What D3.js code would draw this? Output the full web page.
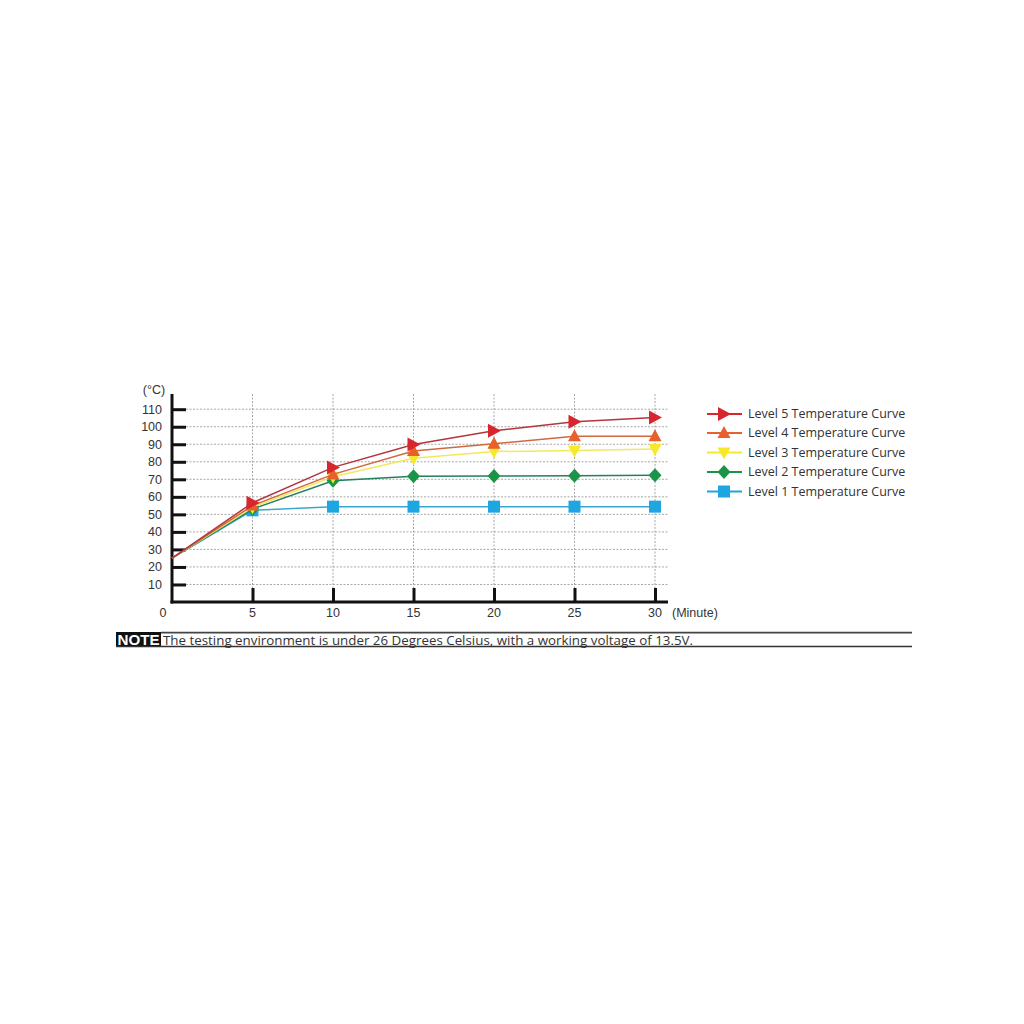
<!DOCTYPE html>
<html><head><meta charset="utf-8">
<script src="https://cdn.jsdelivr.net/npm/d3@7"></script>
<style>body{margin:0;background:#fff;}svg{display:block;}</style>
</head><body>
<script>
const minutes = [0, 5, 10, 15, 20, 25, 30];
const level5 = [25, 56.6, 76.8, 89.8, 97.7, 102.9, 105.2];
const level4 = [25, 55, 72.8, 86.1, 90.3, 94.5, 94.5];
const level3 = [25, 54, 71.5, 82, 85.8, 86.5, 87.3];
const level2 = [25, 53, 69.2, 71.8, 71.9, 72, 72.3];
const level1 = [25, 52.3, 54.4, 54.4, 54.4, 54.4, 54.4];
const seriesNames = ["Level 5 Temperature Curve","Level 4 Temperature Curve","Level 3 Temperature Curve","Level 2 Temperature Curve","Level 1 Temperature Curve"];
const seriesColors = ["#d8262e","#e8602c","#f7e92a","#1a9447","#1ea6e0"];
const lineColors = ["#b3353e","#d0683f","#f4e860","#22805a","#3aa6cf"];
const seriesShapes = ["right","up","down","diamond","square"];
const yTicks = [10,20,30,40,50,60,70,80,90,100,110];
const xTicks = [5,10,15,20,25,30];
const noteText = "The testing environment is under 26 Degrees Celsius, with a working voltage of 13.5V.";
const allSeries = [level5, level4, level3, level2, level1];

const W = 1024, H = 1024;
const svg = d3.select("body").append("svg").attr("width", W).attr("height", H);
const x = d3.scaleLinear().domain([0,30]).range([172,655]);
const y = d3.scaleLinear().domain([0,110]).range([602,409.2]);
const font = "Arial, 'Liberation Sans', sans-serif";

// grid
const grid = svg.append("g");
grid.selectAll(".hg").data(yTicks).join("line")
  .attr("x1", x(0)).attr("x2", 668).attr("y1", d=>y(d)).attr("y2", d=>y(d))
  .attr("stroke","#a8a8a8").attr("stroke-width",1).attr("stroke-dasharray","2,1.5");
grid.selectAll(".vg").data(xTicks).join("line")
  .attr("x1", d=>x(d)).attr("x2", d=>x(d)).attr("y1", 394).attr("y2", y(0))
  .attr("stroke","#a8a8a8").attr("stroke-width",1).attr("stroke-dasharray","2,1.5");

// axes
const yAxis = d3.axisRight(y).tickValues(yTicks).tickSize(14).tickFormat("");
const ya = svg.append("g").attr("transform",`translate(${x(0)},0)`).call(yAxis);
ya.select(".domain").remove();
ya.selectAll(".tick line").attr("stroke","#111").attr("stroke-width",3);
const xAxis = d3.axisTop(x).tickValues(xTicks).tickSize(14).tickFormat("");
const xa = svg.append("g").attr("transform",`translate(0,${y(0)})`).call(xAxis);
xa.select(".domain").remove();
xa.selectAll(".tick line").attr("stroke","#111").attr("stroke-width",3);
svg.append("line").attr("x1",x(0)).attr("x2",x(0)).attr("y1",394).attr("y2",y(0)+1.5).attr("stroke","#111").attr("stroke-width",3);
svg.append("line").attr("x1",x(0)-1.5).attr("x2",668).attr("y1",y(0)).attr("y2",y(0)).attr("stroke","#111").attr("stroke-width",3);

// labels
svg.append("g").selectAll("text").data(yTicks).join("text")
  .attr("x",162).attr("y",d=>y(d)).attr("dy","0.35em").attr("text-anchor","end")
  .attr("font-family",font).attr("font-size",12.5).attr("fill","#333").text(d=>d);
svg.append("g").selectAll("text").data([0].concat(xTicks)).join("text")
  .attr("x",d=> d===0 ? 163 : x(d)).attr("y",613).attr("dy","0.35em").attr("text-anchor","middle")
  .attr("font-family",font).attr("font-size",12.5).attr("fill","#333").text(d=>d);
svg.append("text").attr("x",154).attr("y",390).attr("dy","0.35em").attr("text-anchor","middle")
  .attr("font-family",font).attr("font-size",12.5).attr("fill","#333").text("(°C)");
svg.append("text").attr("x",672).attr("y",613).attr("dy","0.35em")
  .attr("font-family",font).attr("font-size",12.5).attr("fill","#333").text("(Minute)");

// marker drawing
function marker(g, shape, color, cx, cy, s) {
  let p;
  if (shape==="right") p = `M${cx-6},${cy-7}L${cx+7},${cy}L${cx-6},${cy+7}Z`;
  else if (shape==="up") p = `M${cx},${cy-7}L${cx+6.5},${cy+5}L${cx-6.5},${cy+5}Z`;
  else if (shape==="down") p = `M${cx-6.5},${cy-5}L${cx+6.5},${cy-5}L${cx},${cy+7}Z`;
  else if (shape==="diamond") p = `M${cx},${cy-7}L${cx+6.5},${cy}L${cx},${cy+7}L${cx-6.5},${cy}Z`;
  else p = `M${cx-6},${cy-6}h12v12h-12Z`;
  g.append("path").attr("d",p).attr("fill",color);
}

const line = d3.line().x((d,i)=>x(minutes[i])).y(d=>y(d));
// draw from level1 up so level5 on top
for (let k = allSeries.length-1; k>=0; k--) {
  const data = allSeries[k];
  const g = svg.append("g");
  g.append("path").attr("d", line(data)).attr("fill","none").attr("stroke",lineColors[k]).attr("stroke-width",1.5);
  data.forEach((v,i)=>{ if (i>0) marker(g, seriesShapes[k], seriesColors[k], x(minutes[i]), y(v)); });
}

// legend
const legY = [414,433,452.5,472,491.5];
seriesNames.forEach((n,k)=>{
  const g = svg.append("g");
  g.append("line").attr("x1",707).attr("x2",742).attr("y1",legY[k]).attr("y2",legY[k]).attr("stroke",seriesColors[k]).attr("stroke-width",2);
  marker(g, seriesShapes[k], seriesColors[k], 724, legY[k]);
  g.append("text").attr("x",748).attr("y",legY[k]).attr("dy","0.35em").attr("font-family","'Open Sans', sans-serif")
   .attr("font-size",12.5).attr("fill","#333").text(n);
});

// note
svg.append("rect").attr("x",116).attr("y",632).attr("width",45).attr("height",15).attr("fill","#111");
svg.append("text").attr("x",138.5).attr("y",640).attr("dy","0.36em").attr("text-anchor","middle")
  .attr("font-family",font).attr("font-weight","bold").attr("font-size",14).attr("fill","#fff")
  .attr("textLength",42).attr("lengthAdjust","spacingAndGlyphs").text("NOTE");
svg.append("line").attr("x1",161).attr("x2",912).attr("y1",632.7).attr("y2",632.7).attr("stroke","#444").attr("stroke-width",1.8);
svg.append("line").attr("x1",116).attr("x2",912).attr("y1",646.5).attr("y2",646.5).attr("stroke","#333").attr("stroke-width",1.3);
svg.append("text").attr("x",163).attr("y",640).attr("dy","0.35em")
  .attr("font-family","'Liberation Sans Narrow', 'Open Sans', sans-serif").attr("font-size",13.5).attr("fill","#333")
  .attr("textLength",530).attr("lengthAdjust","spacingAndGlyphs").text(noteText);
</script>
</body></html>
